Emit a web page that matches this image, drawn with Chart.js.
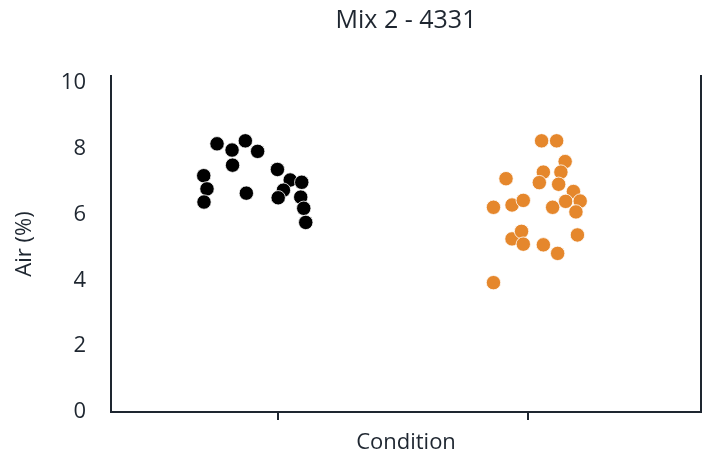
<!DOCTYPE html>
<html>
<head>
<meta charset="utf-8">
<script src="https://cdn.jsdelivr.net/npm/chart.js@4/dist/chart.umd.min.js"></script>
<style>
  html, body { margin: 0; padding: 0; background: #ffffff; }
  #wrap { width: 709px; height: 455px; }
</style>
</head>
<body>
<div id="wrap"><canvas id="chart" width="709" height="455"></canvas></div>
<script>
// Condition positions on the x axis (the two strips)
const conditionPositions = [1, 2];

// Air content (%) measured per sample, first condition
const airCond1 = [8.15, 7.96, 8.24, 7.92, 7.50, 7.18, 6.78, 6.38, 6.65,
                  7.37, 7.05, 6.74, 6.51, 6.98, 6.53, 6.19, 5.76];
// Horizontal strip jitter for the first condition (x units)
const jitterCond1 = [-0.242, -0.182, -0.129, -0.080, -0.180, -0.295, -0.282, -0.294, -0.125,
                     -0.001, 0.050, 0.023, 0.002, 0.096, 0.092, 0.104, 0.112];

// Air content (%) measured per sample, second condition
const airCond2 = [8.24, 8.24, 7.61, 7.29, 7.29, 7.09, 6.97, 6.92, 6.70, 6.22, 6.29, 6.43,
                  6.22, 6.40, 6.41, 6.08, 5.26, 5.49, 5.10, 5.08, 4.82, 5.38, 3.93];
// Horizontal strip jitter for the second condition (x units)
const jitterCond2 = [0.053, 0.113, 0.147, 0.060, 0.130, -0.089, 0.044, 0.121, 0.180, -0.139, -0.065, -0.020,
                     0.097, 0.149, 0.207, 0.190, -0.065, -0.027, -0.020, 0.060, 0.117, 0.196, -0.139];

// Y axis tick values
const yTicks = [0, 2, 4, 6, 8, 10];

const INK = '#1e2630';
const FONT = "'Open Sans', 'Noto Sans', sans-serif";

function stripPoints(center, values, jitter) {
  return values.map((v, i) => ({ x: center + jitter[i], y: v }));
}

new Chart(document.getElementById('chart'), {
  type: 'scatter',
  data: {
    datasets: [
      {
        data: stripPoints(conditionPositions[0], airCond1, jitterCond1),
        backgroundColor: '#000000',
        borderColor: '#ffffff',
        borderWidth: 0.8,
        pointRadius: 7.2
      },
      {
        data: stripPoints(conditionPositions[1], airCond2, jitterCond2),
        backgroundColor: '#e5872c',
        borderColor: '#ffffff',
        borderWidth: 0.8,
        pointRadius: 7.2
      }
    ]
  },
  options: {
    responsive: false,
    animation: false,
    events: [],
    layout: { padding: { left: 0, right: 7, top: 0, bottom: 0 } },
    plugins: {
      legend: { display: false },
      tooltip: { enabled: false },
      title: {
        display: true,
        fullSize: false,
        text: 'Mix 2 - 4331',
        color: INK,
        font: { family: FONT, size: 25, weight: 'normal', lineHeight: 1.2 },
        padding: { top: 6, bottom: 40 }
      }
    },
    scales: {
      x: {
        type: 'linear',
        min: 0.335,
        max: 2.689,
        afterBuildTicks: (scale) => { scale.ticks = conditionPositions.map(v => ({ value: v })); },
        afterFit: (scale) => { scale.height = 43; },
        grid: {
          display: true,
          drawOnChartArea: false,
          drawTicks: true,
          tickLength: 8,
          lineWidth: 2,
          color: INK
        },
        border: { display: true, color: INK, width: 2 },
        ticks: { callback: () => '', padding: 0 },
        title: {
          display: true,
          text: 'Condition',
          color: INK,
          font: { family: FONT, size: 22, lineHeight: 1 },
          padding: { top: 0, bottom: 1 }
        }
      },
      y: {
        type: 'linear',
        position: 'left',
        min: 0,
        max: 10.21,
        afterBuildTicks: (scale) => { scale.ticks = yTicks.map(v => ({ value: v })); },
        afterFit: (scale) => { scale.width = 111; },
        grid: { display: false, drawTicks: false },
        border: { display: true, color: INK, width: 2 },
        ticks: {
          color: INK,
          padding: 25,
          font: { family: FONT, size: 22 }
        },
        title: {
          display: true,
          text: 'Air (%)',
          color: INK,
          font: { family: FONT, size: 22, lineHeight: 1 },
          padding: { top: 14, bottom: 0 }
        }
      },
      yRight: {
        type: 'linear',
        position: 'right',
        min: 0,
        max: 10.21,
        afterFit: (scale) => { scale.width = 0; },
        grid: { display: false, drawTicks: false },
        border: { display: true, color: INK, width: 2 },
        ticks: { display: false }
      }
    }
  }
});
</script>
</body>
</html>
